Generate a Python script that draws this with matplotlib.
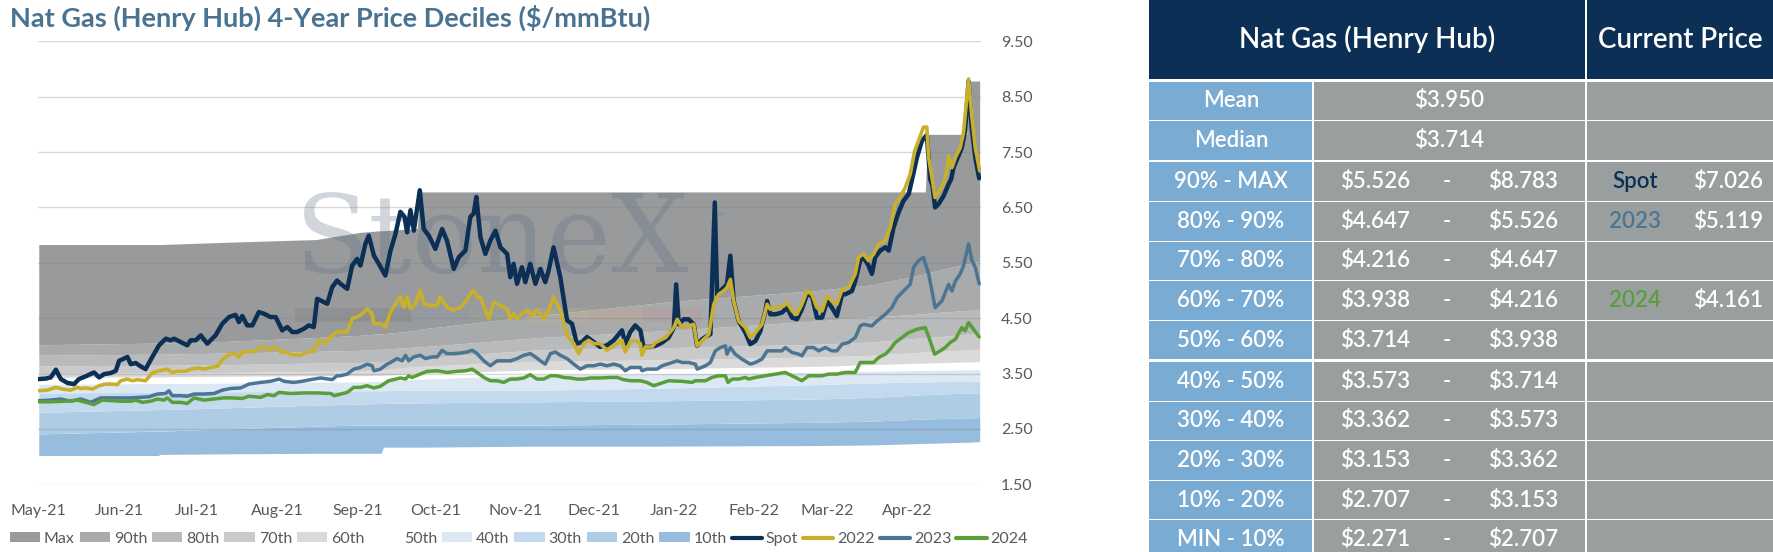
import numpy as np
import matplotlib
matplotlib.use("Agg")
import matplotlib.pyplot as plt
import matplotlib.dates as mdates
from matplotlib.patches import Rectangle, Patch
from matplotlib.lines import Line2D
from matplotlib.ticker import FormatStrFormatter

plt.rcParams['font.family'] = ['Lato', 'DejaVu Sans']

# ---------------- data ----------------
title = "Nat Gas (Henry Hub) 4-Year Price Deciles ($/mmBtu)"
start_date = '2021-05-01'   # day 0

# decile envelope (days since start_date)
band_days = [0, 46, 47, 72, 107, 124, 132, 133, 146, 147, 193, 244, 300, 321, 342, 343, 358, 359, 363]
band_max = [5.83, 5.83, 5.83, 5.87, 5.92, 6.05, 6.08, 6.08, 6.12, 6.78, 6.78, 6.78, 6.78, 6.78, 6.78, 7.82, 7.82, 8.783, 8.783]
band_p90 = [4.02, 4.05, 4.05, 4.08, 4.15, 4.19, 4.22, 4.22, 4.28, 4.30, 4.55, 4.80, 5.00, 5.10, 5.30, 5.32, 5.48, 5.49, 5.526]
band_p80 = [3.83, 3.85, 3.85, 3.87, 3.90, 3.92, 3.94, 3.94, 3.98, 3.98, 4.15, 4.28, 4.45, 4.52, 4.58, 4.59, 4.64, 4.64, 4.647]
band_p70 = [3.64, 3.65, 3.65, 3.66, 3.69, 3.70, 3.72, 3.72, 3.78, 3.78, 3.93, 3.97, 4.03, 4.07, 4.15, 4.15, 4.21, 4.21, 4.216]
band_p60 = [3.50, 3.51, 3.51, 3.52, 3.54, 3.55, 3.57, 3.57, 3.63, 3.63, 3.72, 3.75, 3.80, 3.83, 3.89, 3.89, 3.93, 3.93, 3.938]
band_p50 = [3.43, 3.44, 3.44, 3.45, 3.46, 3.46, 3.47, 3.47, 3.50, 3.50, 3.57, 3.59, 3.63, 3.66, 3.69, 3.69, 3.71, 3.71, 3.714]
band_p40 = [3.31, 3.32, 3.32, 3.33, 3.35, 3.35, 3.36, 3.36, 3.40, 3.40, 3.48, 3.50, 3.52, 3.54, 3.56, 3.56, 3.57, 3.57, 3.573]
band_p30 = [3.15, 3.16, 3.16, 3.17, 3.18, 3.19, 3.19, 3.19, 3.20, 3.20, 3.20, 3.24, 3.30, 3.33, 3.35, 3.35, 3.36, 3.36, 3.362]
band_p20 = [2.80, 2.85, 2.85, 2.88, 2.93, 2.95, 2.96, 2.96, 2.97, 2.97, 2.99, 3.01, 3.04, 3.07, 3.12, 3.12, 3.15, 3.15, 3.153]
band_p10 = [2.41, 2.46, 2.46, 2.50, 2.55, 2.57, 2.57, 2.57, 2.57, 2.57, 2.57, 2.59, 2.62, 2.64, 2.68, 2.68, 2.70, 2.70, 2.707]
band_min = [2.02, 2.02, 2.04, 2.05, 2.06, 2.06, 2.06, 2.17, 2.17, 2.17, 2.19, 2.19, 2.20, 2.21, 2.24, 2.24, 2.26, 2.26, 2.271]

band_labels = ['Max', '90th', '80th', '70th', '60th', '50th', '40th', '30th', '20th', '10th']
band_colors = ['#999a9c', '#a9aaab', '#b9babb', '#cacaca', '#dadada', '#ffffff',
               '#dce8f4', '#c3d9ed', '#afcce5', '#96bcde']

spot_days = [
    0, 2.7, 4.6, 6.6, 8.5, 11.1, 13.6, 15.5, 18.1, 21.3,
    23.3, 25.2, 27.8, 29.7, 31.0, 34.2, 35.5, 37.4, 39.3, 41.2,
    43.8, 46.4, 49.0, 50.9, 52.2, 54.7, 57.3, 58.6, 60.5, 62.5,
    65.0, 68.2, 70.8, 73.4, 75.9, 77.2, 78.5, 80.4, 82.4, 84.9,
    86.9, 89.4, 91.4, 93.9, 95.9, 97.8, 99.7, 102.3, 104.2, 106.1,
    107.4, 110.0, 111.3, 113.2, 115.1,
    116.4, 119.0, 120.9, 122.8, 124.1, 126.0, 127.3, 129.3, 131.2, 133.7,
    135.7, 137.6, 139.5, 141.1, 142.1, 143.4, 144.7, 147.0, 148.5, 150.5,
    153.0, 155.6, 157.5, 160.1, 162.0, 164.6, 166.5, 167.8, 168.8, 170.4,
    172.3, 174.2, 176.2, 178.1, 180.7, 181.9, 183.2, 184.5, 186.4, 187.7,
    189.6, 191.6, 193.5, 195.4, 196.7, 198.6, 201.2, 203.8, 205.7, 207.6,
    209.6, 211.5, 214.1, 216.6, 219.2, 221.8, 225.0, 226.3, 228.2, 230.1,
    232.1, 233.3, 235.9,
    237.9, 240.5, 243.0, 245.0, 245.9, 246.9, 248.8, 250.7, 252.7, 254.0,
    255.9, 257.8, 259.1, 260.8, 261.7, 263.6, 265.5, 266.8, 268.1, 270.0,
    272.6, 274.5, 276.5, 278.4, 280.3, 281.0, 282.2, 284.2, 286.7, 288.7,
    290.6, 292.5, 294.4, 296.4, 298.3, 300.2, 302.2, 304.1, 306.0, 307.9,
    309.9, 311.1, 313.7, 315.0, 316.9, 318.2, 320.1, 321.4, 322.7, 324.6,
    326.6, 327.9, 329.8, 331.7, 333.6, 335.6, 336.8, 338.8, 340.7, 342.6,
    343.9, 344.8, 345.8, 347.1, 349.1, 351.0, 352.0, 352.9, 354.8, 356.1,
    357.4, 358.7, 359.9, 361.3, 362.8]
spot_vals = [
    3.40, 3.41, 3.43, 3.57, 3.40, 3.33, 3.31, 3.40, 3.45, 3.52,
    3.43, 3.49, 3.51, 3.55, 3.73, 3.80, 3.67, 3.69, 3.63, 3.58,
    3.80, 4.01, 4.13, 4.10, 4.13, 4.07, 4.01, 4.10, 4.10, 4.19,
    4.04, 4.19, 4.40, 4.52, 4.56, 4.43, 4.54, 4.37, 4.37, 4.61,
    4.58, 4.52, 4.52, 4.28, 4.34, 4.25, 4.25, 4.31, 4.37, 4.34,
    4.85, 4.79, 4.76, 5.06, 5.18,
    5.12, 5.03, 5.45, 5.57, 5.45, 5.84, 5.99, 5.63, 5.48, 5.27,
    5.72, 6.02, 6.42, 6.33, 6.05, 6.45, 6.08, 6.81, 6.11, 5.99,
    5.75, 6.11, 5.90, 5.39, 5.60, 5.72, 6.33, 6.39, 6.69, 5.96,
    5.66, 5.90, 6.08, 5.78, 5.66, 5.24, 5.48, 5.12, 5.42, 5.15,
    5.48, 5.12, 5.39, 5.15, 5.36, 5.78, 5.24, 4.46, 4.40, 4.04,
    4.07, 4.16, 4.07, 3.98, 4.01, 4.10, 4.28, 4.04, 4.25, 4.37,
    4.28, 3.98, 3.98,
    4.00, 4.06, 4.15, 4.33, 5.11, 4.39, 4.48, 4.48, 4.39, 4.00,
    4.12, 4.18, 4.21, 6.59, 4.93, 5.02, 5.11, 5.63, 4.81, 4.45,
    4.24, 4.03, 4.09, 4.27, 4.63, 4.81, 4.57, 4.57, 4.60, 4.69,
    4.51, 4.48, 4.66, 4.93, 4.90, 4.51, 4.51, 4.81, 4.69, 4.54,
    4.93, 4.93, 4.99, 5.17, 5.54, 5.60, 5.45, 5.30, 5.60, 5.72,
    5.78, 5.72, 6.14, 6.41, 6.62, 6.74, 6.98, 7.40, 7.70, 7.81,
    7.01, 6.89, 6.50, 6.56, 6.71, 6.92, 7.01, 7.22, 7.43, 7.58,
    7.89, 8.78, 7.95, 7.40, 7.026]

y2022_days = [
    0, 3.3, 6.6, 9.1, 12.3, 14.9, 16.2, 18.1, 20.7, 23.3,
    25.8, 28.4, 30.3, 31.6, 34.2, 36.1, 38.0, 41.2, 43.8, 46.4,
    49.6, 51.5, 53.5, 56.7, 58.6, 61.2, 63.7, 66.3, 68.9, 70.8,
    73.4, 75.3, 77.2, 78.5, 81.1, 83.0, 84.9, 86.9, 88.8, 91.4,
    93.3, 95.2, 97.8, 101.0, 103.6, 106.1, 108.1, 110.6, 112.6, 115.1,
    119.0, 120.9, 124.1, 126.7, 128.6, 129.3, 131.8, 133.7, 135.7, 137.6,
    139.5, 140.8, 142.1, 143.4, 145.3, 147.2, 148.5, 151.1, 153.7, 154.9,
    157.5, 160.1, 162.7, 164.6, 166.5, 167.8, 169.1, 170.4, 172.3, 173.6,
    175.5, 178.1, 180.7, 181.9, 183.2, 184.5, 186.4, 188.4, 190.3, 192.2,
    193.5, 194.8, 196.7, 198.6, 201.2, 203.8, 206.4, 208.3, 210.2, 212.1,
    214.1, 216.6, 219.2, 221.1, 223.1, 225.0, 226.3, 228.2, 230.1, 232.1,
    232.7, 234.0, 236.6,
    237.9, 241.8, 245.0, 246.3, 248.2, 250.7, 252.7, 254.0, 255.9, 258.5,
    260.4, 262.3, 264.2, 265.5, 266.8, 268.1, 270.0, 272.6, 274.5, 276.5,
    279.0, 281.0, 282.2, 284.2, 287.4, 288.7, 290.6, 292.5, 294.4, 296.4,
    298.3, 300.2, 302.2, 304.1, 306.0, 307.9, 309.9, 312.4, 315.0, 316.3,
    318.2, 320.1, 322.1, 324.0, 326.6, 328.5, 330.4, 332.3, 334.3, 336.2,
    337.9, 339.4, 341.3, 342.6, 343.3, 344.6, 345.8, 347.1, 349.1, 350.3,
    351.0, 352.3, 353.6, 355.5, 356.8, 358.7, 360.0, 361.3, 363.0]
y2022_vals = [
    3.19, 3.20, 3.25, 3.22, 3.20, 3.25, 3.23, 3.24, 3.22, 3.28,
    3.31, 3.31, 3.30, 3.37, 3.40, 3.37, 3.39, 3.37, 3.51, 3.55,
    3.58, 3.52, 3.54, 3.54, 3.58, 3.60, 3.58, 3.61, 3.63, 3.75,
    3.84, 3.87, 3.80, 3.89, 3.89, 3.90, 3.96, 3.98, 3.93, 3.98,
    3.89, 3.89, 3.84, 3.83, 3.89, 3.90, 4.10, 4.05, 4.16, 4.25,
    4.25, 4.49, 4.55, 4.67, 4.58, 4.40, 4.40, 4.34, 4.61, 4.76,
    4.89, 4.70, 4.88, 4.67, 4.76, 5.00, 4.76, 4.73, 4.73, 4.88,
    4.70, 4.64, 4.70, 4.79, 4.94, 5.00, 4.88, 4.88, 4.64, 4.49,
    4.79, 4.73, 4.67, 4.49, 4.58, 4.49, 4.58, 4.64, 4.55, 4.64,
    4.58, 4.49, 4.64, 4.88, 4.64, 4.19, 4.04, 3.86, 4.04, 4.10,
    4.04, 4.04, 3.92, 3.98, 4.04, 4.10, 3.89, 4.07, 4.10, 4.04,
    3.83, 3.98, 3.98,
    4.06, 4.15, 4.33, 4.48, 4.33, 4.36, 4.39, 4.00, 4.09, 4.21,
    4.75, 4.93, 4.99, 5.05, 5.20, 4.81, 4.45, 4.33, 4.15, 4.24,
    4.39, 4.75, 4.66, 4.69, 4.72, 4.78, 4.63, 4.57, 4.75, 4.99,
    4.93, 4.69, 4.63, 4.90, 4.81, 4.75, 5.02, 5.05, 5.30, 5.60,
    5.66, 5.54, 5.66, 5.84, 5.90, 6.14, 6.56, 6.68, 6.86, 7.10,
    7.52, 7.70, 7.95, 7.95, 7.40, 7.04, 6.68, 6.77, 6.92, 7.16,
    7.43, 7.22, 7.40, 7.58, 7.86, 8.82, 8.13, 7.58, 7.16]

y2023_days = [
    0, 4.6, 8.5, 12.3, 16.2, 20.0, 23.9, 27.8, 31.6, 35.5,
    39.3, 42.5, 45.7, 48.9, 50.2, 51.5, 54.7, 57.3, 59.9, 63.7,
    67.6, 70.8, 74.0, 77.9, 81.1, 85.6, 89.4, 92.7, 94.6, 98.4,
    101.6, 104.9, 108.7, 113.2, 115.1,
    116.4, 119.0, 121.5, 124.1, 126.7, 128.6, 129.3, 131.8, 134.4, 135.7,
    138.2, 140.2, 141.5, 142.7, 144.7, 147.2, 149.2, 151.7, 153.7, 155.6,
    157.5, 160.1, 162.7, 165.2, 167.2, 169.1, 171.7, 174.2, 176.8, 179.4,
    181.9, 184.5, 187.1, 189.6, 191.6, 193.5, 195.4, 197.4, 199.3, 201.2,
    203.8, 206.4, 208.9, 211.5, 214.1, 216.6, 219.2, 221.8, 224.3, 226.3,
    228.2, 232.1, 232.7, 234.6, 238.5,
    240.5, 244.3, 246.3, 248.2, 250.7, 253.3, 254.0, 257.2, 259.1, 261.0,
    263.0, 264.9, 265.5, 266.8, 268.7, 271.3, 274.5, 276.5, 279.0, 281.0,
    283.5, 286.7, 288.0, 290.6, 293.2, 294.4, 296.4, 298.9, 300.9, 303.4,
    306.0, 307.9, 309.9, 312.4, 315.0, 316.9, 318.2, 321.4, 323.4, 326.6,
    329.1, 331.1, 333.6, 336.2, 337.5, 339.4, 341.3, 343.3, 344.6, 345.8,
    348.4, 351.0, 352.3, 353.6, 355.5, 356.8, 358.7, 360.0, 361.3, 362.8]
y2023_vals = [
    3.01, 3.02, 3.04, 3.00, 3.04, 2.98, 3.06, 3.06, 3.06, 3.06,
    3.07, 3.08, 3.13, 3.14, 3.19, 3.10, 3.10, 3.09, 3.13, 3.13,
    3.14, 3.20, 3.23, 3.24, 3.31, 3.34, 3.36, 3.40, 3.36, 3.34,
    3.36, 3.39, 3.42, 3.39, 3.46,
    3.46, 3.49, 3.58, 3.61, 3.67, 3.64, 3.55, 3.58, 3.67, 3.70,
    3.77, 3.73, 3.83, 3.73, 3.80, 3.83, 3.77, 3.80, 3.80, 3.92,
    3.86, 3.86, 3.87, 3.89, 3.92, 3.86, 3.73, 3.64, 3.73, 3.73,
    3.73, 3.77, 3.83, 3.86, 3.80, 3.73, 3.67, 3.86, 3.89, 3.83,
    3.77, 3.67, 3.58, 3.64, 3.64, 3.67, 3.64, 3.67, 3.64, 3.55,
    3.61, 3.61, 3.55, 3.58, 3.58,
    3.64, 3.70, 3.73, 3.70, 3.70, 3.67, 3.58, 3.64, 3.70, 3.91,
    3.97, 4.00, 3.85, 3.97, 3.85, 3.76, 3.67, 3.70, 3.76, 3.91,
    3.91, 3.91, 3.97, 3.88, 3.85, 3.82, 3.97, 3.97, 3.91, 3.97,
    3.91, 3.91, 4.03, 4.06, 4.15, 4.36, 4.39, 4.36, 4.45, 4.57,
    4.69, 4.87, 4.99, 5.11, 5.42, 5.54, 5.60, 5.30, 4.99, 4.69,
    4.81, 5.11, 4.99, 5.17, 5.30, 5.45, 5.84, 5.54, 5.42, 5.119]

y2024_days = [
    0, 4.6, 9.8, 14.9, 18.1, 21.3, 24.5, 27.8, 31.6, 35.5,
    37.4, 40.0, 43.2, 45.7, 48.3, 49.6, 51.5, 54.7, 57.3, 59.9,
    63.7, 67.6, 71.4, 74.7, 78.5, 81.1, 85.6, 88.2, 90.7, 92.7,
    97.1, 102.3, 107.4, 112.6, 113.9,
    116.4, 119.0, 121.5, 124.1, 126.7, 129.3, 131.8, 135.0, 137.0, 139.5,
    141.5, 142.7, 144.0, 147.2, 149.8, 153.7, 157.5, 161.4, 164.6, 167.2,
    169.1, 171.7, 174.2, 176.8, 179.4, 181.9, 184.5, 187.1, 189.6, 192.2,
    194.8, 197.4, 199.9, 202.5, 205.1, 207.6, 210.2, 212.8, 216.6, 220.5,
    223.1, 225.6, 228.2, 232.1, 234.6, 237.2,
    243.0, 248.2, 252.0, 253.3, 257.2, 259.7, 262.3, 264.9, 265.9, 267.5,
    270.0, 272.6, 273.9, 276.5, 280.3, 284.2, 288.0, 290.6, 293.2, 294.4,
    297.0, 299.6, 302.2, 304.7, 307.9, 311.1, 315.0, 316.9, 318.9, 322.1,
    324.0, 326.6, 328.5, 330.4, 333.0, 335.6, 338.8, 342.0, 343.9, 345.6,
    347.8, 349.7, 351.6, 353.6, 356.1, 357.4, 358.7, 360.6, 362.8]
y2024_vals = [
    2.99, 2.99, 3.00, 3.02, 2.98, 2.94, 3.02, 3.01, 3.00, 3.00,
    3.02, 2.98, 3.00, 3.04, 3.02, 3.06, 2.98, 2.98, 2.96, 3.06,
    3.02, 3.04, 3.06, 3.06, 3.05, 3.09, 3.07, 3.12, 3.10, 3.16,
    3.14, 3.15, 3.15, 3.14, 3.10,
    3.13, 3.16, 3.25, 3.25, 3.28, 3.24, 3.27, 3.37, 3.39, 3.42,
    3.40, 3.46, 3.43, 3.49, 3.54, 3.55, 3.52, 3.54, 3.55, 3.58,
    3.52, 3.43, 3.37, 3.37, 3.34, 3.40, 3.40, 3.42, 3.48, 3.40,
    3.40, 3.46, 3.46, 3.43, 3.42, 3.40, 3.40, 3.42, 3.42, 3.43,
    3.43, 3.39, 3.37, 3.37, 3.34, 3.28,
    3.37, 3.36, 3.34, 3.37, 3.37, 3.43, 3.46, 3.46, 3.34, 3.40,
    3.40, 3.43, 3.40, 3.43, 3.46, 3.49, 3.52, 3.46, 3.40, 3.37,
    3.46, 3.46, 3.46, 3.49, 3.49, 3.52, 3.52, 3.70, 3.70, 3.70,
    3.79, 3.85, 3.94, 4.06, 4.15, 4.24, 4.30, 4.33, 4.09, 3.85,
    3.91, 3.97, 4.06, 4.12, 4.33, 4.27, 4.42, 4.30, 4.161]

line_labels = ['Spot', '2022', '2023', '2024']
line_colors = ['#0c2f55', '#c9b02c', '#4b7593', '#5a9e3a']
line_widths = [3.2, 2.6, 2.5, 2.5]

# table
table_title = 'Nat Gas (Henry Hub)'
current_title = 'Current Price'
mean_price = 3.950
median_price = 3.714
range_labels = ['90% - MAX', '80% - 90%', '70% - 80%', '60% - 70%', '50% - 60%',
                '40% - 50%', '30% - 40%', '20% - 30%', '10% - 20%', 'MIN - 10%']
current_names = ['Spot', '2023', '', '2024', '', '', '', '', '', '']
current_values = [7.026, 5.119, None, 4.161, None, None, None, None, None, None]
current_name_colors = ['#0c2f55', '#4b7593', None, '#5a9e3a', None, None, None, None, None, None]

# ---------------- figure ----------------
W, H = 1774, 552
fig = plt.figure(figsize=(W / 100, H / 100), dpi=100)
ax = fig.add_axes([38 / W, 1 - 484.3 / H, (981.5 - 38) / W, (484.3 - 41.3) / H])

base = mdates.date2num(np.datetime64(start_date))


def xd(days):
    return base + np.asarray(days, dtype=float)


bounds = [band_min, band_p10, band_p20, band_p30, band_p40, band_p50,
          band_p60, band_p70, band_p80, band_p90, band_max]
bx = xd(band_days)
for k in range(10):
    ax.fill_between(bx, bounds[k], bounds[k + 1], color=band_colors[9 - k],
                    lw=0, zorder=1)

# watermark
ax.text(0.272, 0.545, 'StoneX', transform=ax.transAxes, family='DejaVu Serif',
        fontsize=78, color='#5a6e82', alpha=0.28, ha='left', va='center', zorder=1.5)
ax.text(0.712, 0.60, '\u2122', transform=ax.transAxes, family='DejaVu Sans',
        fontsize=12, color='#5a6e82', alpha=0.28, ha='left', va='center', zorder=1.5)
wm_cols = ['#5f6366', '#7e9cb5', '#8fae8a', '#d2c27a', '#d6a878', '#c98087']
wm_edges = [0.2725, 0.3955, 0.4565, 0.5185, 0.5825, 0.6415, 0.704]
for i, c in enumerate(wm_cols):
    ax.add_patch(Rectangle((wm_edges[i], 0.366), wm_edges[i + 1] - wm_edges[i], 0.032,
                           transform=ax.transAxes, facecolor=c, alpha=0.18, lw=0, zorder=1.5))

series = [(spot_days, spot_vals), (y2022_days, y2022_vals),
          (y2023_days, y2023_vals), (y2024_days, y2024_vals)]
for i, (d, v) in enumerate(series):
    ax.plot(xd(d), v, color=line_colors[i], lw=line_widths[i], solid_joinstyle='round',
            solid_capstyle='round', zorder=5 + i)

ax.set_ylim(1.5, 9.5)
ax.set_xlim(base - 0.3, base + 363.7)
ax.set_yticks(np.arange(1.5, 9.51, 1.0))
ax.yaxis.set_major_formatter(FormatStrFormatter('%.2f'))
ax.yaxis.tick_right()
ax.xaxis.set_major_locator(mdates.MonthLocator())
ax.xaxis.set_major_formatter(mdates.DateFormatter('%b-%y'))
ax.tick_params(axis='y', length=0, pad=14, labelsize=11.5, labelcolor='#595959')
ax.tick_params(axis='x', length=0, pad=14, labelsize=11.5, labelcolor='#595959')
ax.set_axisbelow(False)
ax.grid(axis='y', color='#7f7f7f', alpha=0.3, lw=1.0)
ax.grid(axis='x', visible=False)
for s in ax.spines.values():
    s.set_visible(False)
ax.patch.set_visible(False)

# legend
handles = [Patch(facecolor=c, edgecolor='none') for c in band_colors]
handles += [Line2D([0], [0], color=c, lw=3, solid_capstyle='round') for c in line_colors]
labels = band_labels + line_labels
fig.legend(handles, labels, loc='center left', bbox_to_anchor=(9.6 / W, 1 - 539 / H),
           bbox_transform=fig.transFigure, ncol=14, frameon=False, fontsize=11.5,
           handlelength=1.9, handleheight=0.6, handletextpad=0.25, columnspacing=0.3,
           borderpad=0, borderaxespad=0, labelcolor='#595959')

fig.text(10 / W, 1 - 18 / H, title, fontsize=19.5, fontweight='bold', color='#4a7391',
         ha='left', va='center')

# ---------------- table ----------------
tax = fig.add_axes([0, 0, 1, 1])
tax.set_xlim(0, W)
tax.set_ylim(H, 0)
tax.axis('off')
tax.patch.set_visible(False)

NAVY = '#0c2f55'
BLUE = '#7aabd3'
GRAY = '#999f9f'
x0, x1, x2, x3 = 1149, 1313, 1586, 1774
g = 0.8

tax.add_patch(Rectangle((x0, 0), x2 - x0 - g, 79, facecolor=NAVY, lw=0))
tax.add_patch(Rectangle((x2 + g, 0), x3 - x2 - g, 79, facecolor=NAVY, lw=0))
tax.text((x0 + x2) / 2, 39.5, table_title, color='white', fontsize=20,
         fontweight='semibold', ha='center', va='center')
tax.text((x2 + x3) / 2, 39.5, current_title, color='white', fontsize=20,
         fontweight='semibold', ha='center', va='center')

row_h = 38.6
tops = []
y = 79
for i in range(12):
    y += 2.6 if i in (0, 2, 7) else 1.0
    tops.append(y)
    y += row_h

deciles_now = [b[-1] for b in bounds]  # min, p10 ... p90, max
row_labels = ['Mean', 'Median'] + range_labels
fs = 16
fw = 'semibold'
for i, t in enumerate(tops):
    yc = t + row_h / 2
    tax.add_patch(Rectangle((x0, t), x1 - x0 - g, row_h, facecolor=BLUE, lw=0))
    tax.add_patch(Rectangle((x1 + g, t), x2 - x1 - 2 * g, row_h, facecolor=GRAY, lw=0))
    tax.add_patch(Rectangle((x2 + g, t), x3 - x2 - g, row_h, facecolor=GRAY, lw=0))
    tax.text((x0 + x1) / 2, yc, row_labels[i], color='white', fontsize=fs, fontweight=fw,
             ha='center', va='center')
    if i == 0:
        tax.text((x1 + x2) / 2, yc, f'${mean_price:.3f}', color='white', fontsize=fs,
                 fontweight=fw, ha='center', va='center')
    elif i == 1:
        tax.text((x1 + x2) / 2, yc, f'${median_price:.3f}', color='white', fontsize=fs,
                 fontweight=fw, ha='center', va='center')
    else:
        k = i - 2
        hi = deciles_now[10 - k]
        lo = deciles_now[9 - k]
        tax.text(1375, yc, f'${lo:.3f}', color='white', fontsize=fs, fontweight=fw,
                 ha='center', va='center')
        tax.text(1447, yc, '-', color='white', fontsize=fs, fontweight=fw,
                 ha='center', va='center')
        tax.text(1523, yc, f'${hi:.3f}', color='white', fontsize=fs, fontweight=fw,
                 ha='center', va='center')
        if current_names[k]:
            tax.text(1635, yc, current_names[k], color=current_name_colors[k], fontsize=fs,
                     fontweight=fw, ha='center', va='center')
            tax.text(1728, yc, f'${current_values[k]:.3f}', color='white', fontsize=fs,
                     fontweight=fw, ha='center', va='center')

fig.savefig('out.png', dpi=100)
